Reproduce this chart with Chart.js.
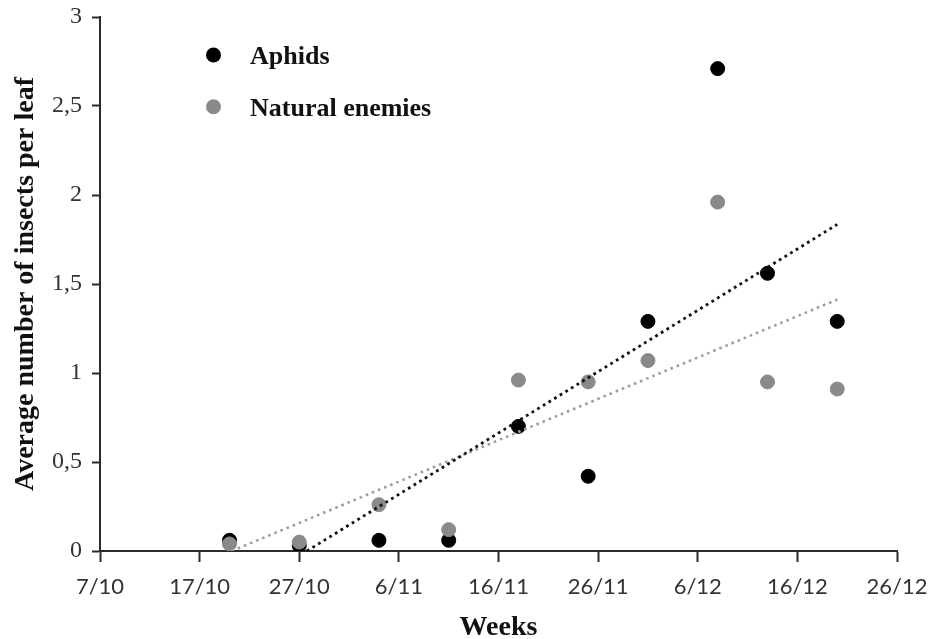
<!DOCTYPE html>
<html>
<head>
<meta charset="utf-8">
<title>Aphids and natural enemies per leaf</title>
<script src="https://cdn.jsdelivr.net/npm/chart.js@4"></script>
<style>
  html, body { margin: 0; padding: 0; background: #fff; }
  #wrap { width: 930px; height: 639px; }
</style>
</head>
<body>
<div id="wrap"><canvas id="chart" width="930" height="639"></canvas></div>
<script>
// Sampling dates (day/month) and weekly counts per leaf
const sampleDates = ['20/10', '27/10', '4/11', '11/11', '18/11', '25/11', '1/12', '8/12', '13/12', '20/12'];
const aphids = [0.06, 0.03, 0.06, 0.06, 0.70, 0.42, 1.29, 2.71, 1.56, 1.29];
const naturalEnemies = [0.04, 0.05, 0.26, 0.12, 0.96, 0.95, 1.07, 1.96, 0.95, 0.91];

// Axis tick labels
const xTickLabels = ['7/10', '17/10', '27/10', '6/11', '16/11', '26/11', '6/12', '16/12', '26/12'];
const yTickLabels = ['0', '0,5', '1', '1,5', '2', '2,5', '3'];

// Dates are placed on a day axis counted from the first tick (7 October)
const YEAR = 2013;
const axisStart = new Date(YEAR, 9, 7);
function dayOffset(label) {
  const [d, m] = label.split('/').map(Number);
  return Math.round((new Date(YEAR, m - 1, d) - axisStart) / 86400000);
}
const xStart = dayOffset(xTickLabels[0]);
const xEnd = dayOffset(xTickLabels[xTickLabels.length - 1]);
const xStep = dayOffset(xTickLabels[1]) - xStart;

const sampleDays = sampleDates.map(dayOffset);
const toPoints = ys => ys.map((y, i) => ({ x: sampleDays[i], y }));

// Least-squares linear trend over the sampled range, kept above y = 0
function linearTrend(ys) {
  const n = ys.length;
  const mx = sampleDays.reduce((a, b) => a + b, 0) / n;
  const my = ys.reduce((a, b) => a + b, 0) / n;
  let sxy = 0, sxx = 0;
  for (let i = 0; i < n; i++) {
    sxy += (sampleDays[i] - mx) * (ys[i] - my);
    sxx += (sampleDays[i] - mx) ** 2;
  }
  const slope = sxy / sxx;
  const at = x => my + slope * (x - mx);
  let x0 = sampleDays[0];
  const x1 = sampleDays[n - 1];
  if (at(x0) < 0) x0 = mx - my / slope;
  return [{ x: x0, y: at(x0) }, { x: x1, y: at(x1) }];
}

const BLACK = '#000000';
const GREY = '#8a8a8a';
const AXIS = '#2b2b2b';
const SERIF = '"Liberation Serif", "Times New Roman", serif';

// Legend drawn in the upper-left of the plot area for the two point series
const insetLegend = {
  id: 'insetLegend',
  afterDraw(chart) {
    const { ctx, chartArea } = chart;
    const items = chart.data.datasets.filter(ds => ds.legendItem);
    ctx.save();
    items.forEach((ds, i) => {
      const cy = chartArea.top + 38 + i * 51.7;
      ctx.beginPath();
      ctx.fillStyle = ds.backgroundColor;
      ctx.arc(chartArea.left + 113.5, cy, 7.5, 0, Math.PI * 2);
      ctx.fill();
      ctx.fillStyle = '#111';
      ctx.font = 'bold 26px ' + SERIF;
      ctx.textBaseline = 'alphabetic';
      ctx.textAlign = 'left';
      ctx.fillText(ds.label, chartArea.left + 150, cy + 9);
    });
    ctx.restore();
  }
};

new Chart(document.getElementById('chart'), {
  type: 'scatter',
  data: {
    datasets: [
      {
        label: 'Aphids',
        legendItem: true,
        data: toPoints(aphids),
        backgroundColor: BLACK,
        borderColor: BLACK,
        borderWidth: 1,
        pointRadius: 7,
        order: 2
      },
      {
        label: 'Natural enemies',
        legendItem: true,
        data: toPoints(naturalEnemies),
        backgroundColor: GREY,
        borderColor: GREY,
        borderWidth: 1,
        pointRadius: 7,
        order: 1
      },
      {
        label: 'Aphids trend',
        data: linearTrend(aphids),
        showLine: true,
        pointRadius: 0,
        borderColor: '#111111',
        borderWidth: 2.8,
        borderDash: [2.8, 3.8],
        order: 0
      },
      {
        label: 'Natural enemies trend',
        data: linearTrend(naturalEnemies),
        showLine: true,
        pointRadius: 0,
        borderColor: '#9e9e9e',
        borderWidth: 2.6,
        borderDash: [2.6, 4],
        order: 0
      }
    ]
  },
  options: {
    responsive: false,
    animation: false,
    events: [],
    layout: { padding: { top: 17, right: 33, left: 0, bottom: 0 } },
    plugins: {
      legend: { display: false },
      tooltip: { enabled: false }
    },
    scales: {
      x: {
        type: 'linear',
        min: xStart,
        max: xEnd,
        afterFit(scale) {
          scale.height = 88;
          scale.paddingLeft = 0;
          scale.paddingRight = 0;
        },
        ticks: {
          stepSize: xStep,
          autoSkip: false,
          maxRotation: 0,
          padding: 12,
          color: '#333',
          font: { family: 'Lato, "Open Sans", sans-serif', size: 22 },
          callback: (value) => xTickLabels[Math.round((value - xStart) / xStep)]
        },
        grid: { drawOnChartArea: false, drawTicks: true, tickLength: 11, tickColor: AXIS, tickWidth: 2 },
        border: { color: AXIS, width: 2 },
        title: {
          display: true,
          text: 'Weeks',
          color: '#111',
          padding: { top: 0, bottom: 0 },
          font: { family: SERIF, size: 28, weight: 'bold', lineHeight: '22px' }
        }
      },
      y: {
        min: 0,
        max: 3,
        afterFit(scale) {
          scale.width = 100;
          scale.paddingTop = 0;
          scale.paddingBottom = 0;
        },
        ticks: {
          stepSize: 0.5,
          padding: 10,
          color: '#333',
          font: { family: SERIF, size: 24 },
          callback: (value, index) => yTickLabels[index]
        },
        grid: { drawOnChartArea: false, drawTicks: true, tickLength: 8, tickColor: AXIS, tickWidth: 2 },
        border: { color: AXIS, width: 2 },
        title: {
          display: true,
          text: 'Average number of insects per leaf',
          color: '#111',
          padding: { top: 9, bottom: 0 },
          font: { family: SERIF, size: 28, weight: 'bold' }
        }
      }
    }
  },
  plugins: [insetLegend]
});
</script>
</body>
</html>
